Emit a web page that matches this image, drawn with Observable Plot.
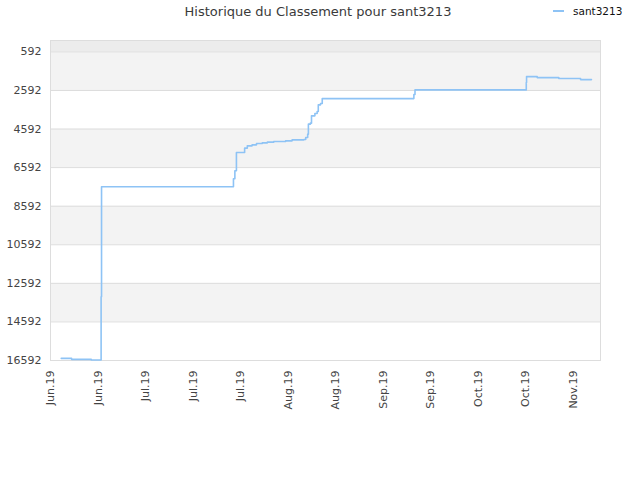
<!DOCTYPE html>
<html>
<head>
<meta charset="utf-8">
<script src="https://cdn.jsdelivr.net/npm/d3@7"></script>
<script src="https://cdn.jsdelivr.net/npm/@observablehq/plot@0.6"></script>
<style>
  body { margin: 0; background: #fff; font-family: "DejaVu Sans", sans-serif; }
  #wrap { position: relative; width: 640px; height: 480px; }
  #title { position: absolute; left: 0; top: 4px; width: 636px; text-align: center; font-size: 13px; color: #3a3a3a; }
  #legend { position: absolute; left: 553px; top: 5px; font-size: 10.5px; color: #111; display: flex; align-items: center; }
  #legend .sw { width: 11px; height: 2px; background: #8ec3f5; margin-right: 9px; }
  #chart { position: absolute; left: 0; top: 30px; }
</style>
</head>
<body>
<div id="wrap">
  <div id="title">Historique du Classement pour sant3213</div>
  <div id="legend"><span class="sw"></span><span>sant3213</span></div>
  <div id="chart"></div>
</div>
<script>
const seriesName = "sant3213";
const dates = [
  "2019-06-07T04:00","2019-06-10T05:00","2019-06-16T00:00","2019-06-18T22:00","2019-06-19T01:00",
  "2019-07-27T22:00","2019-07-28T08:00","2019-07-28T19:00","2019-07-31T05:00","2019-08-01T00:00",
  "2019-08-02T10:00","2019-08-03T17:00","2019-08-05T10:00","2019-08-06T22:00","2019-08-08T19:00",
  "2019-08-12T07:00","2019-08-14T05:00","2019-08-17T17:00","2019-08-18T05:00","2019-08-18T19:00",
  "2019-08-19T00:00","2019-08-19T14:00","2019-08-19T22:00","2019-08-20T22:00","2019-08-21T14:00",
  "2019-08-21T22:00","2019-08-22T14:00","2019-08-23T02:00","2019-09-19T02:00","2019-09-19T10:00",
  "2019-10-22T05:00","2019-10-22T07:00","2019-10-25T10:00","2019-10-31T19:00","2019-11-07T05:00",
  "2019-11-10T10:00"
];
const ranks = [
  16482, 16533, 16565, 13285, 7586,
  7172, 6757, 5809, 5581, 5462,
  5410, 5343, 5307, 5270, 5239,
  5203, 5151, 5136, 5032, 4856,
  4338, 4286, 3908, 3789, 3685,
  3338, 3271, 3012, 2800, 2561,
  2183, 1872, 1924, 1975, 2027,
  2027
];
const yTicks = [592, 2592, 4592, 6592, 8592, 10592, 12592, 14592, 16592];
const xTicks = ["2019-06-04","2019-06-18","2019-07-02","2019-07-16","2019-07-30","2019-08-13",
                "2019-08-27","2019-09-10","2019-09-24","2019-10-08","2019-10-22","2019-11-05"];
const xDomain = ["2019-06-04T00:00", "2019-11-13T02:00"];
const yDomain = [16592, 1];
// shaded bands between ticks [from, to, fill]
const bandFrom = [1, 592, 4592, 8592, 12592];
const bandTo   = [592, 2592, 6592, 10592, 14592];
const bandFill = ["#ececec", "#f3f3f3", "#f3f3f3", "#f3f3f3", "#f3f3f3"];

const parse = s => new Date(s + "Z");
const data = dates.map((d, i) => ({date: parse(d), rank: ranks[i]}));
const bands = bandFrom.map((v, i) => ({y1: v, y2: bandTo[i], fill: bandFill[i]}));
const fmt = d3.utcFormat("%b.%y");

const chart = Plot.plot({
  width: 640,
  height: 450,
  marginTop: 10,
  marginLeft: 50,
  marginRight: 40,
  marginBottom: 120,
  style: {fontFamily: "DejaVu Sans, sans-serif", fontSize: "11px", color: "#444", background: "transparent"},
  x: {type: "utc", domain: xDomain.map(parse), ticks: xTicks.map(parse), tickFormat: fmt,
      tickRotate: -90, tickSize: 0, tickPadding: 10, label: null},
  y: {domain: yDomain, ticks: yTicks, tickSize: 0, tickPadding: 9, label: null, tickFormat: d => String(d)},
  marks: [
    Plot.rect(bands, {y1: "y1", y2: "y2", fill: "fill"}),
    Plot.ruleY(yTicks, {stroke: "#dddddd", strokeWidth: 1}),
    Plot.frame({stroke: "#dddddd"}),
    Plot.line(data, {x: "date", y: "rank", curve: "step-after", stroke: "#8ec3f5", strokeWidth: 1.6})
  ]
});
document.getElementById("chart").appendChild(chart);
</script>
</body>
</html>
